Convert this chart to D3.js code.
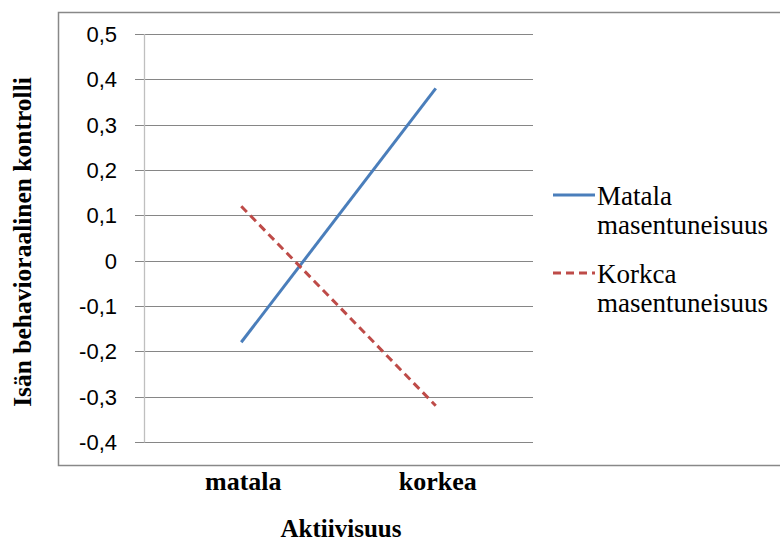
<!DOCTYPE html>
<html><head><meta charset="utf-8">
<script src="https://cdn.jsdelivr.net/npm/d3@7"></script>
<style>body{margin:0;background:#fff}</style>
</head><body>
<svg id="c" width="780" height="550"></svg>
<script>
const categories = ["matala", "korkea"];
const seriesNames = [["Matala", "masentuneisuus"], ["Korkca", "masentuneisuus"]];
const matalaValues = [-0.18, 0.38];
const korkeaValues = [0.12, -0.32];
const yTicks = [0.5, 0.4, 0.3, 0.2, 0.1, 0, -0.1, -0.2, -0.3, -0.4];
const colors = ["#4a7ebb", "#be4b48"];

(function () {
const svg = d3.select("#c");
const serif = "Liberation Serif, Times New Roman, serif";
const sans = "Liberation Sans, Arial, sans-serif";

// outer frame
svg.append("rect").attr("x", 58.5).attr("y", 12.5).attr("width", 730).attr("height", 453)
  .attr("fill", "none").attr("stroke", "#888").attr("stroke-width", 1.5);

const pL = 144, pR = 533, pT = 34, pB = 442;
const x = d3.scaleBand().domain(categories).range([pL, pR]).padding(0);
const y = d3.scaleLinear().domain([-0.4, 0.5]).range([pB, pT]);

const fmt = v => (v === 0 ? "0" : d3.format(".1f")(v).replace(".", ",").replace("−", "-"));
// gridlines
svg.append("g").selectAll("line").data(yTicks).join("line")
  .attr("x1", pL - 9).attr("x2", pR)
  .attr("y1", d => Math.round(y(d)) + 0.5).attr("y2", d => Math.round(y(d)) + 0.5)
  .attr("stroke", "#868686").attr("stroke-width", 1);
// y axis line
svg.append("line").attr("x1", pL + 0.5).attr("x2", pL + 0.5).attr("y1", pT).attr("y2", pB + 0.5)
  .attr("stroke", "#bfbfbf").attr("stroke-width", 1.3);
// y tick labels
svg.append("g").selectAll("text").data(yTicks).join("text")
  .attr("x", 117).attr("y", d => y(d)).attr("dy", "0.36em")
  .attr("text-anchor", "end").attr("font-family", sans).attr("font-size", 22)
  .attr("fill", "#000").text(fmt);

// x labels
svg.append("g").selectAll("text").data(categories).join("text")
  .attr("x", d => x(d) + x.bandwidth() / 2 + 2).attr("y", 490)
  .attr("text-anchor", "middle").attr("font-family", serif).attr("font-weight", "bold")
  .attr("font-size", 26).text(d => d);

// axis titles
svg.append("text").attr("x", 341).attr("y", 537).attr("text-anchor", "middle")
  .attr("font-family", serif).attr("font-weight", "bold").attr("font-size", 25).text("Aktiivisuus");
svg.append("text").attr("transform", "translate(31,242) rotate(-90)").attr("text-anchor", "middle")
  .attr("font-family", serif).attr("font-weight", "bold").attr("font-size", 25.5).text("Isän behavioraalinen kontrolli");

// lines
const line = d3.line().x((d, i) => x(categories[i]) + x.bandwidth() / 2).y(d => y(d));
svg.append("path").datum(matalaValues).attr("d", line).attr("fill", "none")
  .attr("stroke", colors[0]).attr("stroke-width", 3);
svg.append("path").datum(korkeaValues).attr("d", line).attr("fill", "none")
  .attr("stroke", colors[1]).attr("stroke-width", 3).attr("stroke-dasharray", "8,5");

// legend
const legY = [195, 273];
seriesNames.forEach((nm, i) => {
  const g = svg.append("g");
  g.append("line").attr("x1", 553).attr("x2", 595).attr("y1", legY[i]).attr("y2", legY[i])
    .attr("stroke", colors[i]).attr("stroke-width", 3)
    .attr("stroke-dasharray", i === 1 ? "8,5" : null);
  nm.forEach((t, j) => {
    g.append("text").attr("x", 597).attr("y", legY[i] + 10 + j * 28.5)
      .attr("font-family", serif).attr("font-size", 27).text(t);
  });
});
})();
</script>
</body></html>
